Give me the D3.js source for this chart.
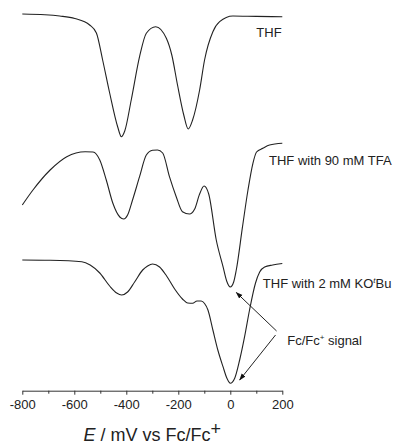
<!DOCTYPE html>
<html lang="en">
<head>
<meta charset="UTF-8">
<title>DPV - THF, TFA, KOtBu</title>
<script src="https://cdn.jsdelivr.net/npm/d3@7"></script>
<style>
    body{ margin:0; background:#fff; }
    text{ font-family: "Liberation Sans", Arial, sans-serif; fill:#222; }
</style>
</head>
<body>
<div class="container"></div>
<script>
    ////////////////////////////////////////////////////////////////
    /*          Data: potential (mV) and current (a.u.)           */
    ////////////////////////////////////////////////////////////////

    const thf = [
        [-800,377],[-713,376.3],[-656,375],[-598,372.5],[-541,366],[-515,358],[-491,331],
        [-464,298],[-433,264],[-419,254.3],[-406,260],[-381,291],[-349,334.3],[-323,357.7],
        [-287,364.3],[-246,352.7],[-225,336],[-203,306],[-179,276],[-162,262],[-145,271],
        [-118,301],[-99,331],[-67,359.3],[-41,369.3],[10,375],[100,374.6],[200,374.3]
    ]
    const thfTfa = [
        [-800,186],[-759,201],[-693,221],[-629,234.3],[-558,239.3],[-528,239],[-502,231],
        [-477,211],[-452,188],[-425,174],[-410,172],[-395,176],[-376,191],[-349,214.3],
        [-323,236],[-299,240.7],[-280,241],[-260,238],[-234,214.3],[-208,194.3],[-184,179.3],
        [-157,177],[-137,182],[-118,197],[-101,205],[-83,197],[-54,151],[-28,124.3],
        [-14,110],[0,104],[13,109],[23,121],[47,164.3],[68,201],[87,227.7],[101,239],
        [125,242.7],[151,246],[200,247.7]
    ]
    const thfBase = [
        [-800,131],[-693,130.7],[-571,129.3],[-539,126],[-502,118],[-464,105],[-437,98],
        [-418,96],[-395,99],[-368,109],[-337,121],[-318,125],[-299,127],[-272,124],
        [-245,115],[-214,102],[-184,92],[-164,88],[-145,87.7],[-128,90],[-112,90],
        [-99,87.5],[-86,81],[-67,61],[-48,41],[-28,24.3],[-13,12.7],[0,7.7],[17,12.7],
        [36,31],[55,54.3],[74,81],[97,108],[113,119],[132,124],[163,126],[200,127.5]
    ]
    const series = [thf, thfTfa, thfBase]

    const majorTicks = [-800,-600,-400,-200,0,200]
    const minorTicks = [-700,-500,-300,-100,100]

    // arrows for the ferrocene signal: [fromX, fromY, toX, toY]
    const arrows = [
        [178,60,23,98.5],
        [174,56,36,11]
    ]

    ////////////////////////////////////////////////////////////////
    /*          Scales and container                              */
    ////////////////////////////////////////////////////////////////

    const width = 399, height = 444
    const svg = d3.select('.container').append('svg')
        .attr('width', width).attr('height', height)

    const x = d3.scaleLinear().domain([-800, 200]).range([22.3, 282.3])
    const y = d3.scaleLinear().domain([0, 380]).range([391, 11])

    const line = d3.line()
        .x(d => x(d[0]))
        .y(d => y(d[1]))
        .curve(d3.curveMonotoneX)

    svg.append('g').selectAll('path')
        .data(series)
        .join('path')
        .attr('d', line)
        .attr('fill', 'none')
        .attr('stroke', '#222')
        .attr('stroke-width', 1.1)

    ////////////////////////////////////////////////////////////////
    /*          X axis                                            */
    ////////////////////////////////////////////////////////////////

    const axisG = svg.append('g').attr('transform', `translate(0,${y(0) - 0.3})`)
    axisG.call(d3.axisBottom(x).tickValues(majorTicks).tickSize(4).tickPadding(5)
        .tickSizeOuter(0).tickFormat(d => String(d)))
    axisG.selectAll('text').style('font-size', '13px').attr('fill', '#222')
    axisG.select('.domain').attr('stroke', '#333')
    axisG.selectAll('.tick line').attr('stroke', '#333')

    const minorG = svg.append('g').attr('transform', `translate(0,${y(0) - 0.3})`)
    minorG.call(d3.axisBottom(x).tickValues(minorTicks).tickSize(3).tickFormat(''))
    minorG.select('.domain').remove()
    minorG.selectAll('.tick line').attr('stroke', '#333')

    // axis title
    const title = svg.append('text')
        .attr('x', x(-300)).attr('y', 441)
        .attr('text-anchor', 'middle')
        .style('font-size', '18px')
    title.append('tspan').style('font-style', 'italic').text('E')
    title.append('tspan').text(' / mV vs Fc/Fc')
    title.append('tspan').attr('dy', -6).text('+')

    ////////////////////////////////////////////////////////////////
    /*          Labels and arrows                                 */
    ////////////////////////////////////////////////////////////////

    svg.append('text').attr('x', x(100)).attr('y', y(354))
        .style('font-size', '13px').attr('fill', '#333').text('THF')

    svg.append('text').attr('x', x(149)).attr('y', y(226))
        .style('font-size', '13px').attr('fill', '#333').text('THF with 90 mM TFA')

    const kLabel = svg.append('text').attr('x', x(125)).attr('y', y(103))
        .style('font-size', '13px').attr('fill', '#333')
    kLabel.append('tspan').text('THF with 2 mM KO')
    kLabel.append('tspan').attr('dy', -5).style('font-size', '8px').style('font-style', 'italic').text('t')
    kLabel.append('tspan').attr('dy', 5).text('Bu')

    const fcLabel = svg.append('text').attr('x', x(219)).attr('y', y(46))
        .style('font-size', '13px').attr('fill', '#333')
    fcLabel.append('tspan').text('Fc/Fc')
    fcLabel.append('tspan').attr('dy', -5).style('font-size', '8px').text('+')
    fcLabel.append('tspan').attr('dy', 5).text(' signal')

    svg.append('defs').append('marker')
        .attr('id', 'head')
        .attr('viewBox', '0 0 10 10')
        .attr('refX', 9).attr('refY', 5)
        .attr('markerWidth', 7).attr('markerHeight', 7)
        .attr('markerUnits', 'userSpaceOnUse')
        .attr('orient', 'auto')
        .append('path').attr('d', 'M0,1.5L10,5L0,8.5Z').attr('fill', '#111')

    svg.append('g').selectAll('line')
        .data(arrows)
        .join('line')
        .attr('x1', d => x(d[0])).attr('y1', d => y(d[1]))
        .attr('x2', d => x(d[2])).attr('y2', d => y(d[3]))
        .attr('stroke', '#222').attr('stroke-width', 1)
        .attr('marker-end', 'url(#head)')
</script>
</body>
</html>
